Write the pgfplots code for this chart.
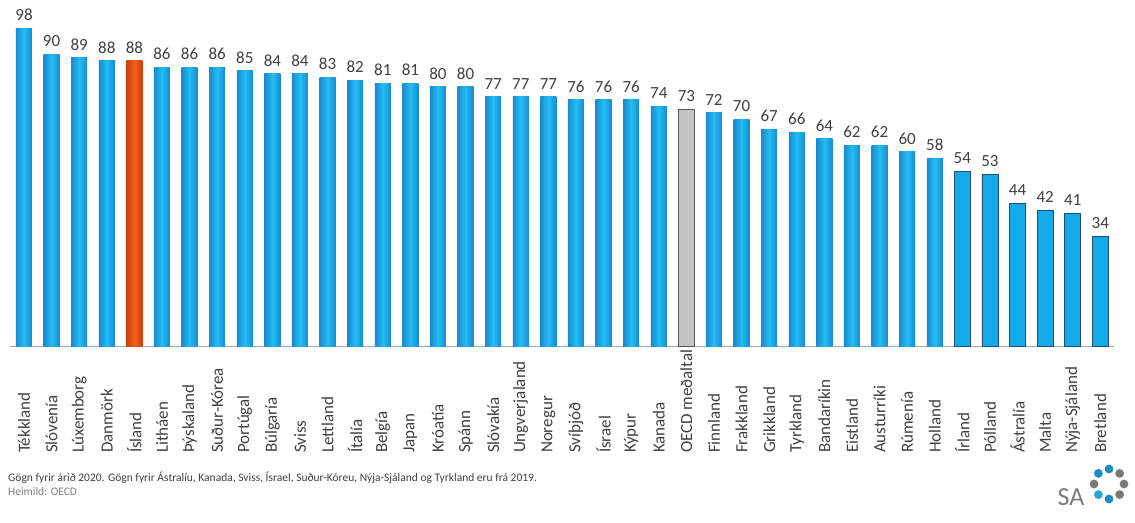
\documentclass[border=0pt]{standalone}
\usepackage{pgfplots}
\pgfplotsset{compat=1.18}
\usepackage{fontspec}
\setmainfont{Carlito}
\definecolor{bluedark}{HTML}{1A8AD0}
\definecolor{bluelight}{HTML}{22BEF5}
\definecolor{blueflat}{HTML}{14AAE9}
\definecolor{blueedge}{HTML}{1F4E79}
\definecolor{iceorange}{HTML}{F7601A}
\definecolor{icedark}{HTML}{C8400E}
\definecolor{oecdgray}{HTML}{C4C4C4}
\definecolor{oecdedge}{HTML}{505860}
\definecolor{txt}{HTML}{404040}
\definecolor{logogray}{HTML}{7A7A7A}
\definecolor{logoblue}{HTML}{1A8BC6}
\definecolor{logoteal}{HTML}{2AA6D6}

\begin{document}
\begin{tikzpicture}
\useasboundingbox (0,0) rectangle (1135pt,522pt);
\begin{axis}[
  at={(10.2pt,175.5pt)}, anchor=south west,
  scale only axis, width=1104pt, height=324.5pt,
  xmin=-0.5, xmax=39.5, ymin=0, ymax=100,
  axis y line=none,
  axis x line*=bottom,
  x axis line style={draw=gray!70, line width=1.2pt, -},
  ybar, bar width=16pt, bar shift=0pt,
  xtick={0,...,39},
  major tick length=0pt,
  xticklabels={Tékkland, Slóvenía, Lúxemborg, Danmörk, Ísland, Litháen, Þýskaland, Suður-Kórea, Portúgal, Búlgaría, Sviss, Lettland, Ítalía, Belgía, Japan, Króatía, Spánn, Slóvakía, Ungverjaland, Noregur, Svíþjóð, Ísrael, Kýpur, Kanada, OECD meðaltal, Finnland, Frakkland, Grikkland, Tyrkland, Bandaríkin, Eistland, Austurríki, Rúmenía, Holland, Írland, Pólland, Ástralía, Malta, Nýja-Sjáland, Bretland},
  xticklabel style={yshift=-110pt, rotate=90, anchor=west, font=\fontsize{17}{19}\selectfont, text=txt},
  /pgf/number format/assume math mode=true,
  nodes near coords,
  every node near coord/.append style={font=\fontsize{17}{19}\selectfont, text=txt, yshift=4pt},
  clip=false,
  gbar/.style={draw=none, left color=bluedark, right color=bluedark, middle color=bluelight},
]
\addplot[gbar] coordinates {(0,98)};
\addplot[gbar] coordinates {(1,90)};
\addplot[gbar] coordinates {(2,89)};
\addplot[gbar] coordinates {(3,88)};
\addplot[draw=none, left color=icedark, right color=icedark, middle color=iceorange] coordinates {(4,88)};
\addplot[gbar] coordinates {(5,86)};
\addplot[gbar] coordinates {(6,86)};
\addplot[gbar] coordinates {(7,86)};
\addplot[gbar] coordinates {(8,85)};
\addplot[gbar] coordinates {(9,84)};
\addplot[gbar] coordinates {(10,84)};
\addplot[gbar] coordinates {(11,83)};
\addplot[gbar] coordinates {(12,82)};
\addplot[gbar] coordinates {(13,81)};
\addplot[gbar] coordinates {(14,81)};
\addplot[gbar] coordinates {(15,80)};
\addplot[gbar] coordinates {(16,80)};
\addplot[gbar] coordinates {(17,77)};
\addplot[gbar] coordinates {(18,77)};
\addplot[gbar] coordinates {(19,77)};
\addplot[gbar] coordinates {(20,76)};
\addplot[gbar] coordinates {(21,76)};
\addplot[gbar] coordinates {(22,76)};
\addplot[gbar] coordinates {(23,74)};
\addplot[draw=oecdedge, line width=0.8pt, fill=oecdgray] coordinates {(24,73)};
\addplot[gbar] coordinates {(25,72)};
\addplot[gbar] coordinates {(26,70)};
\addplot[gbar] coordinates {(27,67)};
\addplot[gbar] coordinates {(28,66)};
\addplot[gbar] coordinates {(29,64)};
\addplot[gbar] coordinates {(30,62)};
\addplot[gbar] coordinates {(31,62)};
\addplot[gbar] coordinates {(32,60)};
\addplot[gbar] coordinates {(33,58)};
\addplot[draw=blueedge, line width=0.8pt, fill=blueflat] coordinates {(34,54) (35,53) (36,44) (37,42) (38,41) (39,34)};
\end{axis}
\node[anchor=west, inner sep=0pt, font=\fontsize{11.5}{13}\selectfont, text=txt] at (8pt,44pt) {Gögn fyrir árið 2020. Gögn fyrir Ástralíu, Kanada, Sviss, Ísrael, Suður-Kóreu, Nýja-Sjáland og Tyrkland eru frá 2019.};
\node[anchor=west, inner sep=0pt, font=\fontsize{11.5}{13}\selectfont, text=gray] at (8pt,30pt) {Heimild: OECD};
\node[inner sep=0pt, font=\fontsize{26}{28}\selectfont, text=logogray] at (1071pt,25pt) {SA};
\foreach \a/\c in {90/logoblue,45/logogray,0/logogray,-45/logogray,-90/logoblue,-135/logoteal,180/logogray,135/logoblue}{
  \fill[\c] (1109pt,38pt) ++(\a:15pt) circle (4.4pt);
}
\end{tikzpicture}
\end{document}
